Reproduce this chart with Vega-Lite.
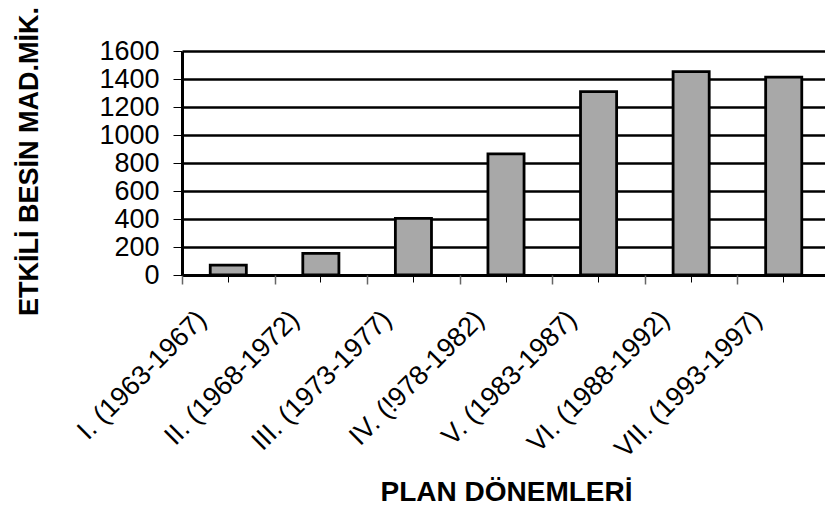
{
  "$schema": "https://vega.github.io/schema/vega-lite/v6.json",
  "autosize": {"type": "none"},
  "padding": {"left": 182, "top": 51, "right": 0, "bottom": 236},
  "width": 648,
  "height": 224,
  "background": "white",
  "config": {
    "view": {"stroke": null},
    "font": "Liberation Sans"
  },
  "data": {
    "values": [
      {"donem": "I. (1963-1967)", "miktar": 70},
      {"donem": "II. (1968-1972)", "miktar": 155},
      {"donem": "III. (1973-1977)", "miktar": 405},
      {"donem": "IV. (!978-1982)", "miktar": 865},
      {"donem": "V. (1983-1987)", "miktar": 1310},
      {"donem": "VI. (1988-1992)", "miktar": 1452},
      {"donem": "VII. (1993-1997)", "miktar": 1414}
    ]
  },
  "encoding": {
    "y": {
      "field": "miktar", "type": "quantitative",
      "scale": {"domain": [0, 1600], "nice": false},
      "axis": {
        "values": [0, 200, 400, 600, 800, 1000, 1200, 1400, 1600],
        "format": "d", "labelOverlap": false,
        "labelFontSize": 27, "labelColor": "black", "labelPadding": 14,
        "tickSize": 9, "tickColor": "black", "tickWidth": 1,
        "domain": true, "domainColor": "black", "domainWidth": 3,
        "grid": true, "gridColor": "black", "gridWidth": 2.6, "gridOpacity": 1,
        "title": "ETKİLİ BESİN MAD.MİK.", "titleFontSize": 27, "titleFontWeight": "bold",
        "titleColor": "black", "titleX": -145, "titleY": 110, "titleBaseline": "alphabetic"
      }
    }
  },
  "layer": [
    {
      "mark": {"type": "bar", "width": {"band": 0.39}, "fill": "#a8a8a8", "stroke": "black", "strokeWidth": 2.8},
      "encoding": {
        "x": {
          "field": "donem", "type": "nominal", "sort": null,
          "scale": {"paddingInner": 0, "paddingOuter": 0},
          "axis": {
            "orient": "bottom",
            "labelAngle": -45, "labelAlign": "right", "labelBaseline": "middle",
            "labelFontSize": 27, "labelColor": "black", "labelLimit": 500,
            "labelOverlap": false,
            "labelOffset": -26, "labelPadding": 33,
            "ticks": true, "tickSize": 7, "tickColor": "black", "tickWidth": 1,
            "domain": true, "domainColor": "black", "domainWidth": 2.8,
            "title": "PLAN DÖNEMLERİ", "titleFontSize": 28, "titleFontWeight": "bold",
            "titleColor": "black", "titleY": 225, "titleBaseline": "alphabetic"
          }
        }
      }
    },
    {
      "mark": {"type": "bar", "opacity": 0},
      "encoding": {
        "x": {
          "field": "donem", "type": "nominal", "sort": null,
          "axis": {
            "orient": "bottom", "tickBand": "extent", "labels": false, "domain": false,
            "ticks": true, "tickSize": 9, "tickColor": "#666666", "tickWidth": 1.5,
            "title": null, "grid": false
          }
        }
      }
    }
  ],
  "resolve": {"axis": {"x": "independent"}}
}
